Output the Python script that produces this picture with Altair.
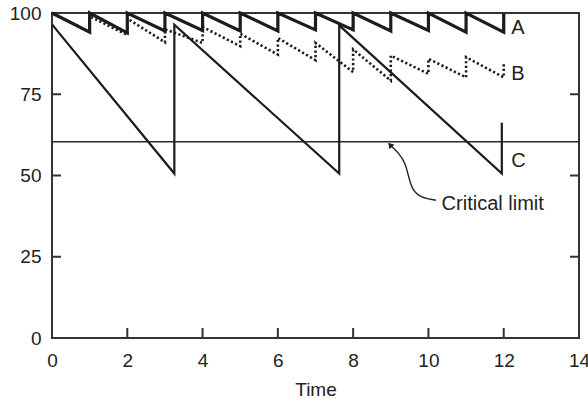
import altair as alt
import pandas as pd

# ---- series data -------------------------------------------------------
# Instants at which A and B are topped up
jump_times = [1, 2, 3, 4, 5, 6, 7, 8, 9, 10, 11, 12]

# A: full recovery after every decline
a_start = 100.0
a_before = [94.1, 93.9, 94.5, 94.6, 94.5, 94.5, 94.8, 94.8, 94.5, 94.6, 94.1, 94.1]
a_after = [100.0] * 12

# B: partial recovery, drifting downward
b_start = 100.0
b_before = [94.1, 93.2, 91.0, 90.8, 89.8, 87.2, 85.5, 81.8, 79.2, 81.3, 80.2, 80.2]
b_after = [99.0, 98.3, 95.0, 95.7, 93.6, 92.3, 90.8, 88.8, 86.9, 85.9, 86.4, 84.3]

# C: long declines with rare recoveries
c_times = [0, 3.25, 3.25, 7.63, 7.63, 11.95, 11.95]
c_values = [96.5, 50.6, 96.4, 50.6, 96.2, 50.6, 66.2]

critical_limit = 60.4

x_tick_values = [0, 2, 4, 6, 8, 10, 12, 14]
y_tick_values = [0, 25, 50, 75, 100]
x_inner_ticks = [2, 4, 6, 8, 10, 12]
y_inner_ticks = [25, 50, 75]

# Series labels and the annotation for the critical limit
label_text = ["A", "B", "C"]
label_x = [12.2, 12.2, 12.2]
label_y = [95.4, 81.2, 54.4]
note_text = "Critical limit"
note_x = 10.35
note_y = 41.1
# Curved leader from the note up to the critical-limit line
arrow_x = [10.20, 9.78, 9.56, 9.47, 9.38, 9.20, 8.98]
arrow_y = [42.4, 43.2, 45.8, 49.9, 54.0, 57.1, 59.4]


def sawtooth(start, times, before, after):
    rows = [(0.0, start)]
    for t, lo, hi in zip(times, before, after):
        rows.append((t, lo))
        rows.append((t, hi))
    return rows


rows = []
for name, pts in [
    ("A", sawtooth(a_start, jump_times, a_before, a_after)),
    ("B", sawtooth(b_start, jump_times, b_before, b_after)),
    ("C", list(zip(c_times, c_values))),
]:
    for i, (t, v) in enumerate(pts):
        rows.append({"series": name, "t": t, "v": v, "i": i})
df = pd.DataFrame(rows)

W, H = 527, 325
FONT = "Liberation Sans"
INK = "#1c1c1c"
FRAME = "#333333"

x_scale = alt.Scale(domain=[0, 14], nice=False, zero=False)
y_scale = alt.Scale(domain=[0, 100], nice=False, zero=False)

x_axis = alt.Axis(
    values=x_tick_values, ticks=False, domain=False, grid=False,
    labelPadding=13, labelFontSize=19, labelFont=FONT, labelColor="#222",
    labelFlush=False, labelOverlap=False, labelBound=False,
    title="Time", titleFont=FONT, titleFontSize=19, titleFontWeight="normal",
    titleColor="#222", titlePadding=10,
)
y_axis = alt.Axis(
    values=y_tick_values, ticks=False, domain=False, grid=False,
    labelPadding=11, labelFontSize=19, labelFont=FONT, labelColor="#222",
    labelFlush=False, labelOverlap=False, labelBound=False, title=None,
)

base = alt.Chart(df).encode(
    x=alt.X("t:Q", scale=x_scale, axis=x_axis),
    y=alt.Y("v:Q", scale=y_scale, axis=y_axis),
    order=alt.Order("i:Q"),
)

line_a = base.transform_filter(alt.datum.series == "A").mark_line(
    color=INK, strokeWidth=3.2, strokeJoin="miter", clip=False
)
line_b = base.transform_filter(alt.datum.series == "B").mark_line(
    color=INK, strokeWidth=2.6, strokeDash=[2.2, 2.4], strokeJoin="miter"
)
line_c = base.transform_filter(alt.datum.series == "C").mark_line(
    color=INK, strokeWidth=2.2, strokeJoin="miter"
)

crit = alt.Chart(pd.DataFrame({"v": [critical_limit]})).mark_rule(
    color="#2a2a2a", strokeWidth=1.6
).encode(y=alt.Y("v:Q", scale=y_scale))

# Inward-pointing tick marks on the frame
bottom_ticks = alt.Chart(pd.DataFrame({"t": x_inner_ticks})).mark_rule(
    color=FRAME, strokeWidth=2
).encode(x=alt.X("t:Q", scale=x_scale), y=alt.value(H), y2=alt.value(H - 10))
left_ticks = alt.Chart(pd.DataFrame({"v": y_inner_ticks})).mark_rule(
    color=FRAME, strokeWidth=2
).encode(y=alt.Y("v:Q", scale=y_scale), x=alt.value(0), x2=alt.value(9))
right_ticks = alt.Chart(pd.DataFrame({"v": y_inner_ticks})).mark_rule(
    color=FRAME, strokeWidth=2
).encode(y=alt.Y("v:Q", scale=y_scale), x=alt.value(W - 9), x2=alt.value(W))

labels = alt.Chart(
    pd.DataFrame({"txt": label_text, "t": label_x, "v": label_y})
).mark_text(
    align="left", baseline="middle", font=FONT, fontSize=20, color="#222"
).encode(x=alt.X("t:Q", scale=x_scale), y=alt.Y("v:Q", scale=y_scale), text="txt:N")

note = alt.Chart(
    pd.DataFrame({"txt": [note_text], "t": [note_x], "v": [note_y]})
).mark_text(
    align="left", baseline="middle", font=FONT, fontSize=20, color="#222"
).encode(x=alt.X("t:Q", scale=x_scale), y=alt.Y("v:Q", scale=y_scale), text="txt:N")

arrow_df = pd.DataFrame({"t": arrow_x, "v": arrow_y, "i": list(range(len(arrow_x)))})
arrow_line = alt.Chart(arrow_df).mark_line(
    color="#222", strokeWidth=1.4, interpolate="basis"
).encode(
    x=alt.X("t:Q", scale=x_scale), y=alt.Y("v:Q", scale=y_scale), order="i:Q"
)
arrow_head = alt.Chart(arrow_df.tail(1)).mark_point(
    shape="triangle-up", filled=True, color="#222", size=45, angle=318, opacity=1
).encode(x=alt.X("t:Q", scale=x_scale), y=alt.Y("v:Q", scale=y_scale))

chart = (
    alt.layer(
        crit, bottom_ticks, left_ticks, right_ticks,
        line_c, line_b, line_a, labels, note, arrow_line, arrow_head,
    )
    .properties(
        width=W, height=H,
        padding={"left": 52, "top": 13, "right": 9, "bottom": 64},
        autosize=alt.AutoSizeParams(type="none"),
        background="white",
    )
    .configure_view(stroke=FRAME, strokeWidth=2)
)

chart.save("out.html", embed_options={"renderer": "svg", "actions": False})
